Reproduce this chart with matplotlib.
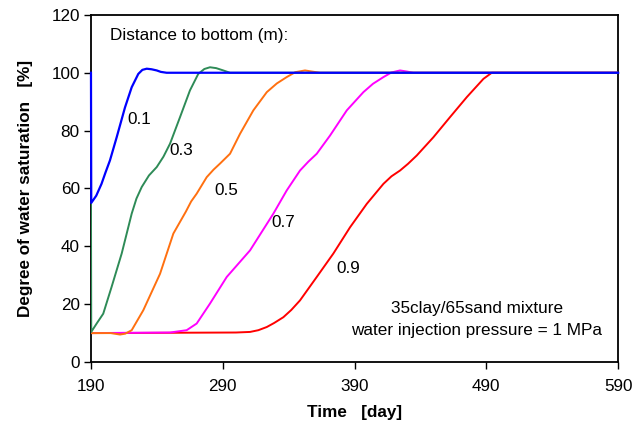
import matplotlib
matplotlib.use("Agg")
import matplotlib.pyplot as plt

plt.rcParams['font.family'] = ['Liberation Sans', 'DejaVu Sans']

# Data (time in days, saturation in %)
t_01 = [190, 190.2, 194, 198, 201, 204.4, 209.5, 215.8, 220.9, 225.9, 229, 232.3, 236, 239.9, 243, 247.4, 590]
s_01 = [100, 55, 57.5, 61.6, 65.5, 69.7, 77.7, 88, 95, 99.6, 101, 101.4, 101.2, 100.8, 100.3, 100, 100]

t_03 = [190, 190.2, 194.3, 199.3, 205.6, 213.3, 220.9, 224.5, 228.5, 234, 239.9, 245, 250, 257.6, 265.1, 271.4, 276, 280.3, 285, 290.4, 295.5, 590]
s_03 = [55, 10.4, 13.3, 16.7, 25.9, 37.5, 51.3, 56.5, 60.5, 64.5, 67.4, 71, 75.5, 84.7, 93.9, 99.6, 101.3, 101.9, 101.6, 100.8, 100, 100]

t_05 = [190, 205, 212, 216, 220.9, 229.7, 242.4, 252.5, 262, 266, 270.2, 277.8, 283, 287.9, 295.5, 303.1, 313.2, 323.4, 331, 338.5, 345, 352.4, 358, 363.8, 590]
s_05 = [10, 10, 9.5, 9.8, 11, 17.9, 30.5, 44.4, 52, 55.5, 58.2, 63.9, 66.5, 68.6, 72, 78.9, 87, 93.3, 96.3, 98.5, 100.2, 100.8, 100.4, 100, 100]

t_07 = [190, 250, 262.6, 270.2, 280.3, 293, 310.7, 328.4, 338.5, 348.6, 355, 361.3, 371.4, 384.1, 396.7, 404, 411.9, 418, 424.5, 430, 434.6, 590]
s_07 = [10, 10.2, 11, 13.3, 20.2, 29.4, 38.6, 51.3, 59.3, 66.2, 69.3, 72, 78.3, 87, 93.3, 96.2, 98.5, 100.1, 100.8, 100.4, 100, 100]

t_09 = [190, 300, 310.7, 317, 323.4, 329, 336, 342, 348.6, 361.3, 373.9, 386.6, 399.3, 411.9, 418, 424.5, 430.5, 437.2, 449.8, 462.5, 475.2, 487.8, 494.1, 590]
s_09 = [10, 10.2, 10.4, 11, 12.1, 13.5, 15.5, 18, 21.3, 29.4, 37.5, 46.6, 54.7, 61.6, 64.2, 66.2, 68.5, 71.4, 77.7, 84.7, 91.6, 97.9, 100, 100]

labels = ["0.1", "0.3", "0.5", "0.7", "0.9"]
label_x = [226.7, 258.8, 293, 336, 385.3]
label_y = [84, 73.2, 59.3, 48.4, 32.3]

x_ticks = [190, 290, 390, 490, 590]
y_ticks = [0, 20, 40, 60, 80, 100, 120]

fig = plt.figure(figsize=(6.34, 4.32), dpi=100)
ax = fig.add_axes([0.1435, 0.162, 0.975 - 0.1435, 0.9655 - 0.162])

ax.plot(t_09, s_09, color='#ff0000', lw=1.4, zorder=2)
ax.plot(t_07, s_07, color='#ff00ff', lw=1.4, zorder=3)
ax.plot(t_05, s_05, color='#ff7010', lw=1.4, zorder=4)
ax.plot(t_03, s_03, color='#2e8b57', lw=1.4, zorder=5)
ax.plot(t_01, s_01, color='#0000ff', lw=1.6, zorder=6, clip_on=False)

fs = 12.3
for lab, lx, ly in zip(labels, label_x, label_y):
    ax.text(lx, ly, lab, fontsize=fs, ha='center', va='center', zorder=7)

ax.text(204.4, 112.9, "Distance to bottom (m):", fontsize=fs, ha='left', va='center')
ax.text(482.7, 18.5, "35clay/65sand mixture", fontsize=fs, ha='center', va='center')
ax.text(482.7, 11, "water injection pressure = 1 MPa", fontsize=fs, ha='center', va='center')

ax.set_xlim(190, 590)
ax.set_ylim(0, 120)
ax.set_xticks(x_ticks)
ax.set_yticks(y_ticks)
ax.tick_params(direction='out', length=5, width=1, labelsize=fs, pad=7)
ax.tick_params(axis='y', pad=3)
for sp in ax.spines.values():
    sp.set_linewidth(1.3)

ax.set_xlabel("Time   [day]", fontsize=fs, fontweight='bold', labelpad=8)
ax.set_ylabel("Degree of water saturation   [%]", fontsize=fs, fontweight='bold', labelpad=13)

fig.savefig("out.png", dpi=100)
